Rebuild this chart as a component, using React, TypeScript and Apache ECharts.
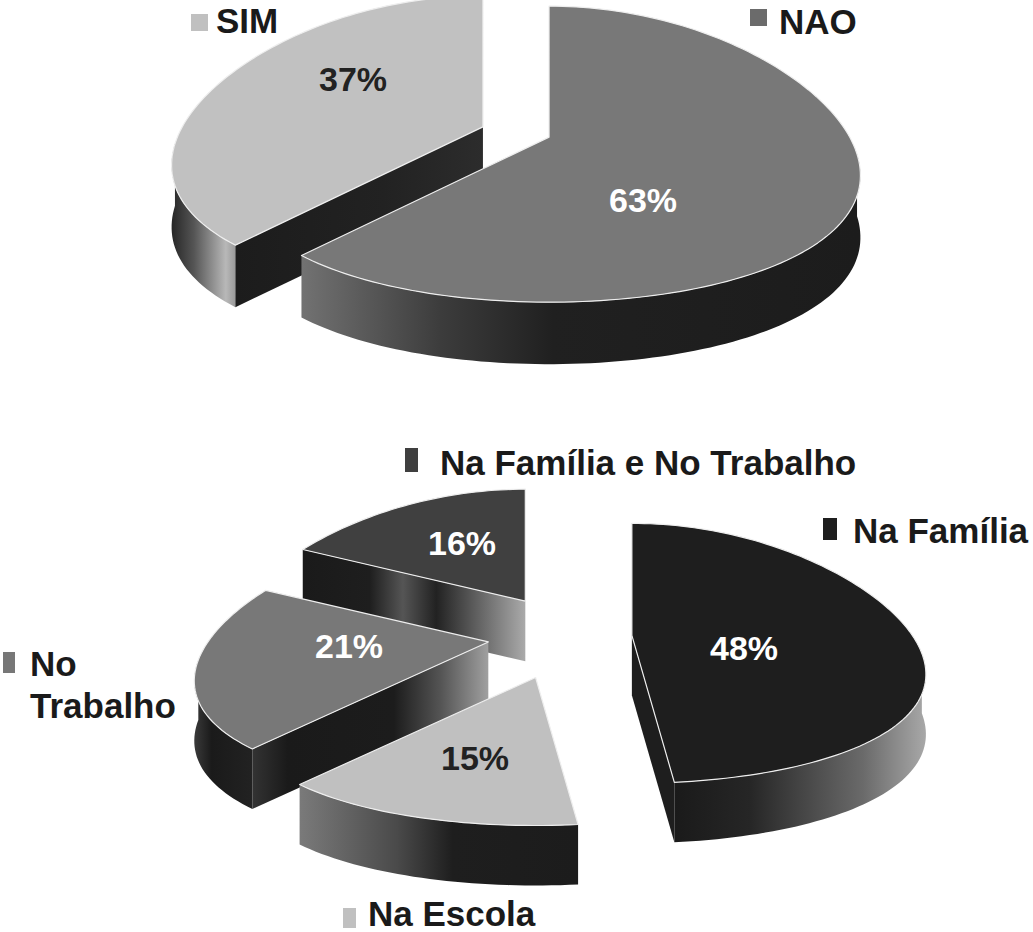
import { useEffect, useRef } from "react";
import * as echarts from "echarts";

// top pie: answers, clockwise from 12 o'clock
const answerNames = ["NAO", "SIM"];
const answerValues = [63, 37];

// bottom pie: places, clockwise from 12 o'clock
const placeNames = ["Na Família", "Na Escola", "No Trabalho", "Na Família e No Trabalho"];
const placeValues = [48, 15, 21, 16];

const FONT = '"Liberation Sans", Arial, Helvetica, sans-serif';

type Stops = [number, string][];

// geometry of each tilted pie (apex, radii, perspective shift/spread, thickness, explode)
const topGeo = { cx: 516, cy: 132, rx: 308, ry: 148, yOff: 17, persp: 0.15, depth: 62, ex: 36, ey: 13 };
const bottomGeo = { cx: 560, cy: 638, rx: 290, ry: 130, yOff: 18, persp: 0.17, depth: 60, ex: 72, ey: 42 };

const topStyle = {
  top: ["#787878", "#c1c1c1"],
  outer: [
    [[0, "#727272"], [0.25, "#3c3c3c"], [0.45, "#202020"], [1, "#1c1c1c"]],
    [[0, "#262626"], [0.35, "#555555"], [0.85, "#b8b8b8"], [1, "#9a9a9a"]],
  ] as Stops[],
  radial: [
    [[0, "#1c1c1c"], [1, "#1c1c1c"]],
    [[0, "#1c1c1c"], [0.6, "#222222"], [1, "#2c2c2c"]],
  ] as Stops[],
  label: [[643, 200], [353, 79]],
  labelColor: ["#ffffff", "#222222"],
};

const bottomStyle = {
  top: ["#1e1e1e", "#c0c0c0", "#787878", "#404040"],
  outer: [
    [[0, "#1a1a1a"], [0.3, "#262626"], [0.75, "#6a6a6a"], [1, "#a8a8a8"]],
    [[0, "#7a7a7a"], [0.35, "#4a4a4a"], [0.55, "#1e1e1e"], [1, "#1c1c1c"]],
    [[0, "#3a3a3a"], [0.3, "#1a1a1a"], [1, "#222222"]],
    [[0, "#222222"], [1, "#222222"]],
  ] as Stops[],
  radial: [
    [[0, "#1e1e1e"], [1, "#1e1e1e"]],
    [[0, "#1e1e1e"], [1, "#1e1e1e"]],
    [[0, "#333333"], [0.15, "#1a1a1a"], [0.6, "#1c1c1c"], [0.8, "#555555"], [1, "#a0a0a0"]],
    [[0, "#1a1a1a"], [0.3, "#1e1e1e"], [0.45, "#555555"], [0.6, "#222222"], [0.85, "#777777"], [1, "#aaaaaa"]],
  ] as Stops[],
  label: [[744, 648], [475, 758], [349, 646], [462, 543]],
  labelColor: ["#ffffff", "#222222", "#ffffff", "#ffffff"],
};

// legend marks placed next to their slices
const topLegend = [
  { box: [750, 9, 17, 17], text: [779, 21] },
  { box: [191, 14, 17, 17], text: [216, 20] },
];
const bottomLegend = [
  { box: [823, 518, 14, 22], text: [853, 530] },
  { box: [343, 908, 13, 20], text: [368, 913] },
  { box: [3, 652, 12, 21], text: [30, 684], wrap: true },
  { box: [405, 448, 13, 24], text: [440, 462] },
];

const grad = (stops: Stops) =>
  new echarts.graphic.LinearGradient(0, 0, 1, 0, stops.map(([offset, color]) => ({ offset, color })));

function makeRenderer(values: number[], geo: typeof topGeo, style: typeof topStyle) {
  const total = values.reduce((a, b) => a + b, 0);
  const starts: number[] = [];
  let acc = 0;
  values.forEach((v) => {
    starts.push((acc / total) * 360);
    acc += v;
  });
  const rad = (d: number) => (d * Math.PI) / 180;
  const apexOf = (i: number) => {
    const mid = starts[i] + ((values[i] / total) * 360) / 2;
    return [geo.cx + geo.ex * Math.sin(rad(mid)), geo.cy - geo.ey * Math.cos(rad(mid))];
  };
  const order = values.map((_, i) => i).sort((a, b) => apexOf(a)[1] - apexOf(b)[1]);
  const rank: number[] = [];
  order.forEach((idx, r) => (rank[idx] = r));

  return (params: any, api: any) => {
    const i = params.dataIndex;
    const v = api.value(0);
    const a0 = starts[i];
    const a1 = a0 + (v / total) * 360;
    const [px, py] = apexOf(i);
    const rim = (t: number) => {
      const s = Math.sin(rad(t));
      const c = Math.cos(rad(t));
      return [px + geo.rx * s * (1 - geo.persp * c), py + geo.yOff - geo.ry * c];
    };
    const arc = (b0: number, b1: number) => {
      const n = Math.max(2, Math.ceil((b1 - b0) / 1.5));
      const pts: number[][] = [];
      for (let k = 0; k <= n; k++) pts.push(rim(b0 + ((b1 - b0) * k) / n));
      return pts;
    };
    const down = (p: number[]) => [p[0], p[1] + geo.depth];
    const base = rank[i] * 10;
    const children: any[] = [];

    // curved outer wall, visible on the front half
    const b0 = Math.max(a0, 90);
    const b1 = Math.min(a1, 270);
    if (b1 > b0) {
      const top = arc(b0, b1);
      children.push({
        type: "polygon",
        z2: base + 1,
        shape: { points: [...top, ...top.slice().reverse().map(down)] },
        style: { fill: grad(style.outer[i]) },
      });
    }
    // radial cut faces that turn towards the viewer
    const wall = (t: number) => {
      const r = rim(t);
      const p = [px, py];
      children.push({
        type: "polygon",
        z2: base + 2,
        shape: { points: [r, p, down(p), down(r)] },
        style: { fill: grad(style.radial[i]) },
      });
    };
    if (Math.sin(rad(a0)) < -1e-6) wall(a0);
    if (Math.sin(rad(a1)) > 1e-6) wall(a1);

    // top face
    children.push({
      type: "polygon",
      z2: base + 5,
      shape: { points: [[px, py], ...arc(a0, a1)] },
      style: { fill: api.visual("color"), stroke: "#eeeeee", lineWidth: 1.2, lineJoin: "round" },
    });
    // percentage label
    const [lx, ly] = style.label[i];
    children.push({
      type: "text",
      z2: 200,
      x: lx,
      y: ly,
      style: {
        text: Math.round((v / total) * 100) + "%",
        fill: style.labelColor[i],
        fontFamily: FONT,
        fontWeight: "bold",
        fontSize: 34,
        align: "center",
        verticalAlign: "middle",
      },
    });
    return { type: "group", children };
  };
}

function legendGraphics(names: string[], colors: string[], marks: any[]) {
  const out: any[] = [];
  names.forEach((name, i) => {
    const m = marks[i];
    const [x, y, w, h] = m.box;
    out.push({ type: "rect", shape: { x, y, width: w, height: h }, style: { fill: colors[i] } });
    out.push({
      type: "text",
      x: m.text[0],
      y: m.text[1],
      style: {
        text: m.wrap ? name.replace(" ", "\n") : name,
        fill: "#1a1a1a",
        fontFamily: FONT,
        fontWeight: "bold",
        fontSize: 35,
        lineHeight: m.wrap ? 42 : 34,
        align: "left",
        verticalAlign: "middle",
      },
    });
  });
  return out;
}

export default function App() {
  const ref = useRef<HTMLDivElement>(null);
  useEffect(() => {
    document.body.style.margin = "0";
    if (!ref.current) return;
    const chart = echarts.init(ref.current, undefined, { renderer: "svg" });
    const topLegendColors = ["#6b6b6b", "#c0c0c0"];
    const bottomLegendColors = ["#1e1e1e", "#c0c0c0", "#777777", "#3f3f3f"];
    chart.setOption({
      animation: false,
      backgroundColor: "#ffffff",
      graphic: [
        ...legendGraphics(answerNames, topLegendColors, topLegend),
        ...legendGraphics(placeNames, bottomLegendColors, bottomLegend),
      ],
      series: [
        {
          type: "custom",
          coordinateSystem: "none",
          clip: false,
          renderItem: makeRenderer(answerValues, topGeo, topStyle),
          data: answerValues.map((v, i) => ({
            value: [v],
            name: answerNames[i],
            itemStyle: { color: topStyle.top[i] },
          })),
        },
        {
          type: "custom",
          coordinateSystem: "none",
          clip: false,
          renderItem: makeRenderer(placeValues, bottomGeo, bottomStyle),
          data: placeValues.map((v, i) => ({
            value: [v],
            name: placeNames[i],
            itemStyle: { color: bottomStyle.top[i] },
          })),
        },
      ],
    });
    return () => chart.dispose();
  }, []);
  return <div ref={ref} style={{ width: 1033, height: 932 }} />;
}
